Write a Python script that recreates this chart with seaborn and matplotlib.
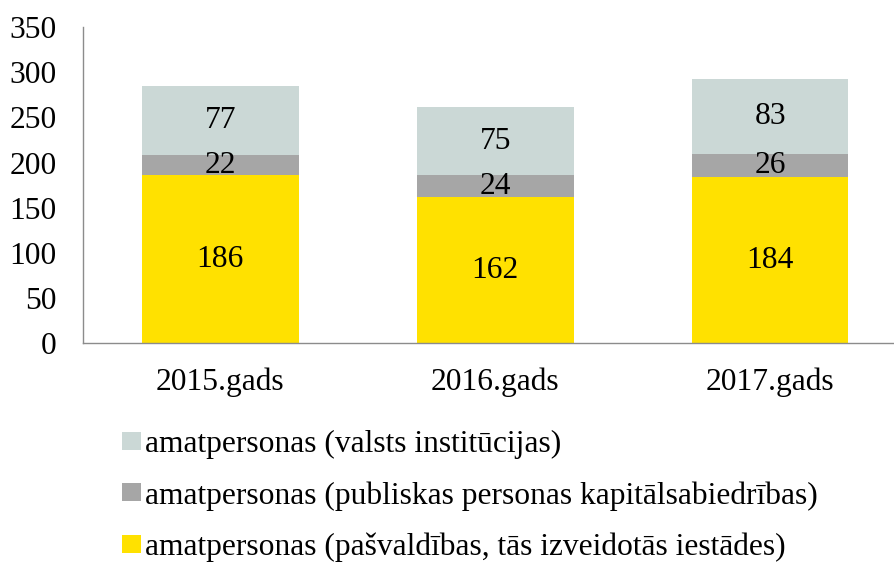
import matplotlib
matplotlib.use("Agg")
import matplotlib.pyplot as plt
from matplotlib.patches import Patch
import seaborn as sns
import pandas as pd

years = ["2015.gads", "2016.gads", "2017.gads"]
pasvaldibas = [186, 162, 184]
publiskas = [22, 24, 26]
valsts = [77, 75, 83]
series_names = [
    "amatpersonas (valsts institūcijas)",
    "amatpersonas (publiskas personas kapitālsabiedrības)",
    "amatpersonas (pašvaldības, tās izveidotās iestādes)",
]
yticks = [0, 50, 100, 150, 200, 250, 300, 350]

c_valsts = "#CBD8D6"
c_publ = "#A6A6A6"
c_pasv = "#FFE100"

sns.set_theme(style="white")
plt.rcParams["font.family"] = ["Liberation Serif", "DejaVu Serif"]
plt.rcParams["text.color"] = "black"

df = pd.DataFrame({"year": years, "pasv": pasvaldibas, "publ": publiskas, "valsts": valsts})
df["lvl2"] = df["pasv"] + df["publ"]
df["lvl3"] = df["lvl2"] + df["valsts"]

fig = plt.figure(figsize=(8.95, 5.62), dpi=100)
ax = fig.add_axes([83 / 895, (562 - 343.3) / 562, 824.5 / 895, 316.3 / 562])

w = 0.57
sns.barplot(data=df, x="year", y="lvl3", color=c_valsts, saturation=1, width=w, ax=ax, linewidth=0)
sns.barplot(data=df, x="year", y="lvl2", color=c_publ, saturation=1, width=w, ax=ax, linewidth=0)
sns.barplot(data=df, x="year", y="pasv", color=c_pasv, saturation=1, width=w, ax=ax, linewidth=0)

fs = 22.7
for i, row in df.iterrows():
    ax.text(i, row["pasv"] / 2, str(row["pasv"]), ha="center", va="center", fontsize=fs, color="black")
    ax.text(i, row["pasv"] + row["publ"] / 2, str(row["publ"]), ha="center", va="center", fontsize=fs, color="black")
    ax.text(i, row["lvl2"] + row["valsts"] / 2, str(row["valsts"]), ha="center", va="center", fontsize=fs, color="black")

ax.set_xlim(-0.5, 2.5)
ax.set_ylim(0, 350)
ax.set_yticks(yticks)
ax.set_yticklabels([str(t) for t in yticks])
ax.set_xlabel("")
ax.set_ylabel("")
ax.tick_params(axis="both", length=0, labelsize=fs, colors="black")
ax.tick_params(axis="y", pad=19)
ax.tick_params(axis="x", pad=17.5)
for s in ["top", "right"]:
    ax.spines[s].set_visible(False)
for s in ["left", "bottom"]:
    ax.spines[s].set_color("#8C8C8C")
    ax.spines[s].set_linewidth(1.0)

handles = [Patch(facecolor=c, edgecolor="none") for c in [c_valsts, c_publ, c_pasv]]
fig.legend(handles, series_names, loc="upper left", bbox_to_anchor=(122 / 895, 1 - 430 / 562),
           frameon=False, fontsize=fs, handlelength=0.6, handleheight=0.5, handletextpad=0.13,
           labelspacing=0.7, borderpad=0, borderaxespad=0, labelcolor="black")

fig.savefig("out.png", dpi=100)
